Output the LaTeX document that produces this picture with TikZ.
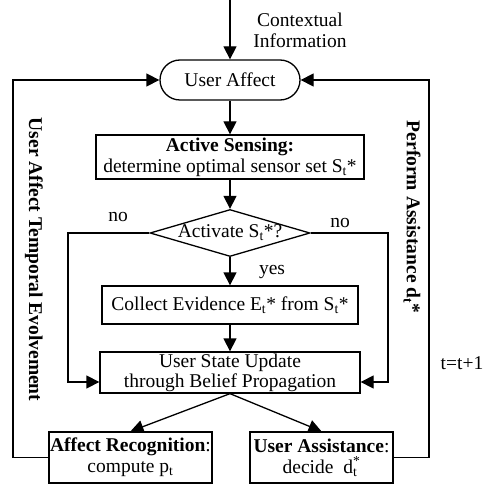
\documentclass[tikz,border=0pt]{standalone}
\usepackage{fontspec}
\setmainfont{Liberation Serif}
\usetikzlibrary{arrows.meta,shapes.geometric,calc}
\begin{document}
\begin{tikzpicture}[x=1pt,y=-1pt,
  every node/.style={font=\fontsize{19.5}{21}\selectfont},
  box/.style={draw,line width=1.3pt,inner sep=0pt,align=center},
  conn/.style={line width=1.3pt,-{Triangle[length=13pt,width=13pt]}},
  plain/.style={line width=1.3pt}]
\useasboundingbox (0,0) rectangle (483,486);
% nodes
\coordinate (top) at (230,0);
\node[box, rounded corners=20pt, minimum width=140pt, minimum height=40pt] (ua) at (230,80) {User Affect};
\node[align=center] (ctx) at (300,30) {Contextual\\Information};
\node[box, minimum width=268pt, minimum height=44pt] (as) at (230,157) {\textbf{Active Sensing:}\\determine optimal sensor set S\textsubscript{t}*};
\node[draw, diamond, line width=1.3pt, minimum width=160pt, minimum height=47pt, inner sep=0pt] (dec) at (230,233) {};
\node (dect) at (dec.center) {Activate S\textsubscript{t}*?};
\node[box, minimum width=256pt, minimum height=38pt] (ce) at (230,305) {Collect Evidence E\textsubscript{t}* from S\textsubscript{t}*};
\node[box, minimum width=260pt, minimum height=41pt, font=\fontsize{19.5}{20}\selectfont] (us) at (230,372.5) {User State Update\\through Belief Propagation};
\node[box, minimum width=163pt, minimum height=51pt] (ar) at (130.5,457.5) {\textbf{Affect Recognition}:\\compute p\textsubscript{t}};
\node[box, minimum width=143pt, minimum height=51pt] (uas) at (321.5,457.5) {\textbf{User Assistance}:\\decide~~d\rlap{\textsubscript{t}}\textsuperscript{*}};
% labels
\node (no1) at (118,217) {no};
\node (no2) at (340,223) {no};
\node (yes) at (272,272) {yes};
\node (tt) at (462,363) {t=t+1};
\node[rotate=-90] (lft) at (34,259.5) {\textbf{User Affect Temporal Evolvement}};
\node[rotate=-90] (rgt) at (412,217) {\textbf{Perform Assistance d\textsubscript{t}*}};
% coordinates
\coordinate (nl1) at (68,233);
\coordinate (nl2) at (68,382);
\coordinate (nr1) at (388,233);
\coordinate (nr2) at (388,382);
\coordinate (ll1) at (13,457.5);
\coordinate (ll2) at (13,80);
\coordinate (rl1) at (429,457.5);
\coordinate (rl2) at (429,80);
% connectors
\draw[conn] (top) -- (ua);
\draw[conn] (ua) -- (as);
\draw[conn] (as) -- (dec);
\draw[conn] (dec) -- (ce);
\draw[conn] (ce) -- (us);
\draw[conn] (dec.west) -- (nl1) -- (nl2) -- (nl2 -| us.west);
\draw[conn] (dec.east) -- (nr1) -- (nr2) -- (nr2 -| us.east);
\draw[conn] (us.south) -- (ar.north);
\draw[conn] (us.south) -- (uas.north);
\draw[conn] (ar.west) -- (ll1) -- (ll2) -- (ua.west);
\draw[conn] (uas.east) -- (rl1) -- (rl2) -- (ua.east);
\end{tikzpicture}
\end{document}
